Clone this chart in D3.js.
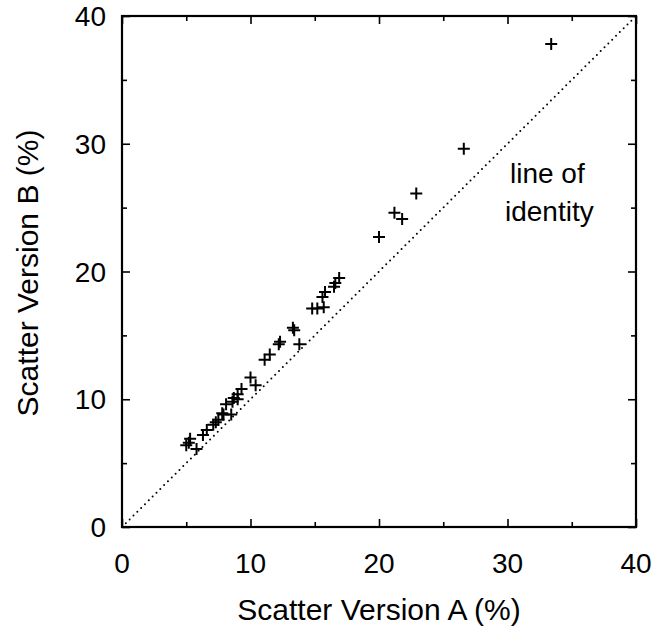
<!DOCTYPE html>
<html>
<head>
<meta charset="utf-8">
<script src="https://cdn.jsdelivr.net/npm/d3@7"></script>
<style>
  body { margin: 0; background: #fff; }
  svg text { font-family: "Liberation Sans", Arial, sans-serif; fill: #000; }
</style>
</head>
<body>
<svg id="chart" width="664" height="639"></svg>
<script>
// values
const versionA = [33.4, 26.6, 22.9, 21.2, 21.8, 20.0, 16.9, 16.6, 16.5, 15.8, 15.6, 15.7, 15.2, 14.8,
                  13.3, 13.4, 13.8, 12.3, 12.2, 11.5, 11.1, 10.4, 10.0, 9.3, 9.0, 8.7, 8.6, 9.0,
                  8.1, 8.5, 7.9, 7.5, 7.3, 7.1, 6.6, 6.3, 7.8, 5.2, 5.3, 5.8, 5.0];
const versionB = [37.8, 29.6, 26.1, 24.6, 24.1, 22.7, 19.5, 19.1, 18.8, 18.4, 18.0, 17.2, 17.1, 17.1,
                  15.6, 15.4, 14.3, 14.5, 14.3, 13.5, 13.1, 11.1, 11.7, 10.8, 10.4, 10.1, 9.8, 10.0,
                  9.6, 8.8, 8.8, 8.4, 8.2, 8.0, 7.6, 7.2, 8.9, 6.6, 6.9, 6.1, 6.4];
const majorTicks = [0, 10, 20, 30, 40];
const minorTicks = [5, 15, 25, 35];
const identity = [0, 40];

const svg = d3.select('#chart');
const pLeft = 122, pRight = 636, pTop = 16, pBottom = 527;

const x = d3.scaleLinear().domain([0, 40]).range([pLeft, pRight]);
const y = d3.scaleLinear().domain([0, 40]).range([pBottom, pTop]);

// inward ticks on all four sides, no domain path
function ticks(axis, vals, size, tr){
    const g = svg.append('g').attr('transform', tr)
      .call(axis.tickValues(vals).tickSize(size).tickFormat(''));
    g.select('.domain').remove();
    g.selectAll('line').attr('stroke', '#000').attr('stroke-width', 1.6);
}
ticks(d3.axisBottom(x), majorTicks, -8, `translate(0,${pBottom})`);
ticks(d3.axisBottom(x), minorTicks, -5, `translate(0,${pBottom})`);
ticks(d3.axisTop(x), majorTicks, -8, `translate(0,${pTop})`);
ticks(d3.axisTop(x), minorTicks, -5, `translate(0,${pTop})`);
ticks(d3.axisLeft(y), majorTicks, -8, `translate(${pLeft},0)`);
ticks(d3.axisLeft(y), minorTicks, -5, `translate(${pLeft},0)`);
ticks(d3.axisRight(y), majorTicks, -8, `translate(${pRight},0)`);
ticks(d3.axisRight(y), minorTicks, -5, `translate(${pRight},0)`);

svg.append('rect')
  .attr('x', pLeft).attr('y', pTop)
  .attr('width', pRight - pLeft).attr('height', pBottom - pTop)
  .attr('fill', 'none').attr('stroke', '#000').attr('stroke-width', 2.2);

// tick labels
svg.selectAll('.xl').data(majorTicks).enter().append('text')
  .attr('x', d => x(d)).attr('y', 573)
  .attr('text-anchor', 'middle').attr('font-size', 28)
  .text(d => d);
svg.selectAll('.yl').data(majorTicks).enter().append('text')
  .attr('x', 106).attr('y', d => y(d) + 10)
  .attr('text-anchor', 'end').attr('font-size', 28)
  .text(d => d);

// line of identity
svg.append('line')
  .attr('x1', x(identity[0])).attr('y1', y(identity[0]))
  .attr('x2', x(identity[1])).attr('y2', y(identity[1]))
  .attr('stroke', '#000').attr('stroke-width', 2)
  .attr('stroke-linecap', 'round').attr('stroke-dasharray', '0 5.4');

// plus markers
const pts = versionA.map((a, i) => ({a: a, b: versionB[i]}));
const s = 6;
svg.append('g').selectAll('path').data(pts).enter().append('path')
  .attr('d', d => `M${x(d.a) - s},${y(d.b)}h${2 * s}M${x(d.a)},${y(d.b) - s}v${2 * s}`)
  .attr('stroke', '#000').attr('stroke-width', 2).attr('fill', 'none');

svg.append('text').attr('x', 510).attr('y', 183).attr('font-size', 28).text('line of');
svg.append('text').attr('x', 505).attr('y', 221).attr('font-size', 28).text('identity');

// axis titles
svg.append('text')
  .attr('x', (pLeft + pRight) / 2).attr('y', 620)
  .attr('text-anchor', 'middle').attr('font-size', 30)
  .text('Scatter Version A (%)');
svg.append('text')
  .attr('transform', `translate(38,273) rotate(-90)`)
  .attr('text-anchor', 'middle').attr('font-size', 30)
  .text('Scatter Version B (%)');
</script>
</body>
</html>
